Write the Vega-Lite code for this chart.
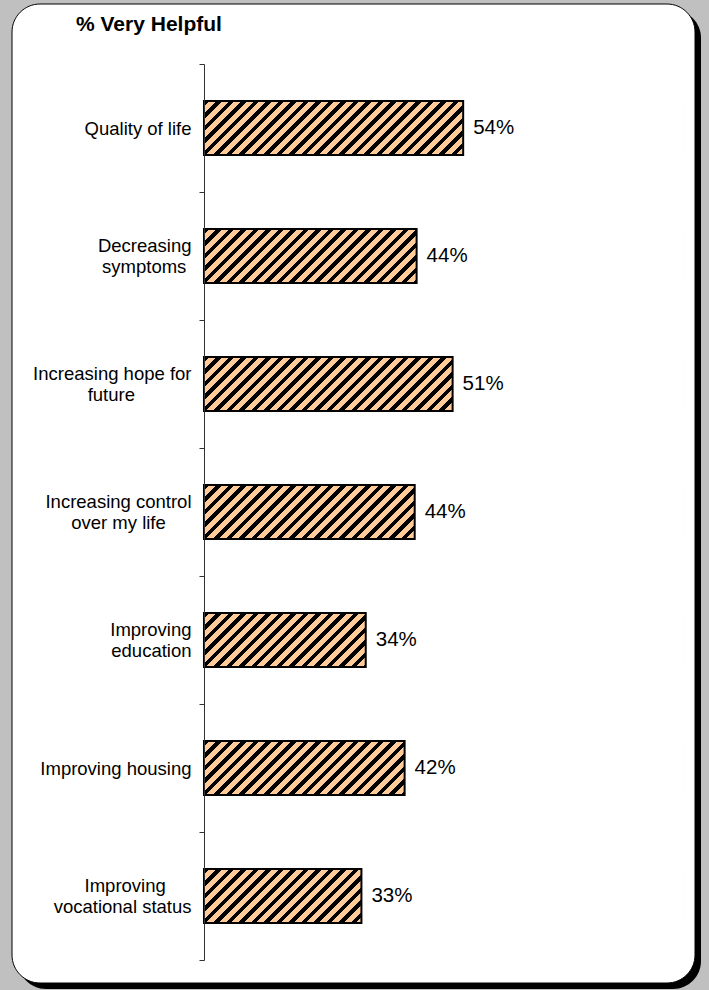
{
  "$schema": "https://vega.github.io/schema/vega-lite/v6.json",
  "width": 683,
  "height": 979,
  "autosize": {"type": "none"},
  "padding": {"left": 12, "top": 4, "right": 14, "bottom": 7},
  "background": "#c0c0c0",
  "config": {"view": {"stroke": null}},
  "title": {
    "text": "% Very Helpful",
    "anchor": "start",
    "frame": "group",
    "dx": 64,
    "offset": -51,
    "font": "Liberation Sans",
    "fontSize": 21,
    "fontWeight": "bold",
    "color": "#000000"
  },
  "data": {
    "values": [
      {"item": "Quality of life", "value": 54.0, "label": "54%"},
      {"item": "Decreasing\nsymptoms\u00a0\u200b", "value": 44.3, "label": "44%"},
      {"item": "Increasing hope for\nfuture\u00a0\u00a0\u00a0\u00a0\u00a0\u00a0\u00a0\u00a0\u00a0\u00a0\u00a0\u200b", "value": 51.8, "label": "51%"},
      {"item": "Increasing control\nover my life\u00a0\u00a0\u00a0\u00a0\u00a0\u200b", "value": 43.9, "label": "44%"},
      {"item": "Improving\neducation", "value": 33.7, "label": "34%"},
      {"item": "Improving housing", "value": 41.8, "label": "42%"},
      {"item": "Improving\u00a0\u00a0\u00a0\u00a0\u00a0\u200b\nvocational status", "value": 32.8, "label": "33%"}
    ]
  },
  "encoding": {
    "y": {
      "field": "item",
      "type": "nominal",
      "sort": null,
      "scale": {"range": [60, 956], "paddingInner": 0, "paddingOuter": 0},
      "axis": {
        "title": null,
        "orient": "left",
        "offset": -192,
        "zindex": 1,
        "domainColor": "#333333",
        "domainWidth": 1,
        "tickColor": "#333333",
        "tickWidth": 1,
        "tickSize": 5,
        "tickBand": "extent",
        "labelPadding": 8,
        "labelFont": "Liberation Sans",
        "labelFontSize": 18.5,
        "labelColor": "#000000",
        "labelLineHeight": 21.5,
        "labelLimit": 300,
        "labelExpr": "split(datum.label, '\\n')",
        "encoding": {
          "labels": {
            "dy": {"condition": {"test": "datum.value != 'Quality of life' && datum.value != 'Improving housing'", "value": -10.75}, "value": 0}
          }
        }
      }
    }
  },
  "layer": [
    {
      "data": {"values": [{"frame": "shadow"}]},
      "mark": {"type": "rect", "fill": "#000000", "cornerRadius": 28, "xOffset": 6, "x2Offset": 6, "yOffset": 6, "y2Offset": 6},
      "encoding": {"x": {"value": 0}, "x2": {"value": "width"}, "y": {"value": 0}, "y2": {"value": "height"}}
    },
    {
      "data": {"values": [{"frame": "panel"}]},
      "mark": {"type": "rect", "fill": "#ffffff", "stroke": "#000000", "strokeWidth": 1, "cornerRadius": 28},
      "encoding": {"x": {"value": 0}, "x2": {"value": "width"}, "y": {"value": 0}, "y2": {"value": "height"}}
    },
    {
      "mark": {
        "type": "bar",
        "height": {"band": 0.42},
        "fill": {
          "gradient": "linear",
          "x1": 0, "y1": 0, "x2": 1.286, "y2": 0.144,
          "stops": [
            {"offset":0,"color":"#000"},{"offset":0.009,"color":"#000"},{"offset":0.009,"color":"#fc9"},{"offset":0.02,"color":"#fc9"},
            {"offset":0.02,"color":"#000"},{"offset":0.029,"color":"#000"},{"offset":0.029,"color":"#fc9"},{"offset":0.04,"color":"#fc9"},
            {"offset":0.04,"color":"#000"},{"offset":0.049,"color":"#000"},{"offset":0.049,"color":"#fc9"},{"offset":0.06,"color":"#fc9"},
            {"offset":0.06,"color":"#000"},{"offset":0.069,"color":"#000"},{"offset":0.069,"color":"#fc9"},{"offset":0.08,"color":"#fc9"},
            {"offset":0.08,"color":"#000"},{"offset":0.089,"color":"#000"},{"offset":0.089,"color":"#fc9"},{"offset":0.1,"color":"#fc9"},
            {"offset":0.1,"color":"#000"},{"offset":0.109,"color":"#000"},{"offset":0.109,"color":"#fc9"},{"offset":0.12,"color":"#fc9"},
            {"offset":0.12,"color":"#000"},{"offset":0.129,"color":"#000"},{"offset":0.129,"color":"#fc9"},{"offset":0.14,"color":"#fc9"},
            {"offset":0.14,"color":"#000"},{"offset":0.149,"color":"#000"},{"offset":0.149,"color":"#fc9"},{"offset":0.16,"color":"#fc9"},
            {"offset":0.16,"color":"#000"},{"offset":0.169,"color":"#000"},{"offset":0.169,"color":"#fc9"},{"offset":0.18,"color":"#fc9"},
            {"offset":0.18,"color":"#000"},{"offset":0.189,"color":"#000"},{"offset":0.189,"color":"#fc9"},{"offset":0.2,"color":"#fc9"},
            {"offset":0.2,"color":"#000"},{"offset":0.209,"color":"#000"},{"offset":0.209,"color":"#fc9"},{"offset":0.22,"color":"#fc9"},
            {"offset":0.22,"color":"#000"},{"offset":0.229,"color":"#000"},{"offset":0.229,"color":"#fc9"},{"offset":0.24,"color":"#fc9"},
            {"offset":0.24,"color":"#000"},{"offset":0.249,"color":"#000"},{"offset":0.249,"color":"#fc9"},{"offset":0.26,"color":"#fc9"},
            {"offset":0.26,"color":"#000"},{"offset":0.269,"color":"#000"},{"offset":0.269,"color":"#fc9"},{"offset":0.28,"color":"#fc9"},
            {"offset":0.28,"color":"#000"},{"offset":0.289,"color":"#000"},{"offset":0.289,"color":"#fc9"},{"offset":0.3,"color":"#fc9"},
            {"offset":0.3,"color":"#000"},{"offset":0.309,"color":"#000"},{"offset":0.309,"color":"#fc9"},{"offset":0.32,"color":"#fc9"},
            {"offset":0.32,"color":"#000"},{"offset":0.329,"color":"#000"},{"offset":0.329,"color":"#fc9"},{"offset":0.34,"color":"#fc9"},
            {"offset":0.34,"color":"#000"},{"offset":0.349,"color":"#000"},{"offset":0.349,"color":"#fc9"},{"offset":0.36,"color":"#fc9"},
            {"offset":0.36,"color":"#000"},{"offset":0.369,"color":"#000"},{"offset":0.369,"color":"#fc9"},{"offset":0.38,"color":"#fc9"},
            {"offset":0.38,"color":"#000"},{"offset":0.389,"color":"#000"},{"offset":0.389,"color":"#fc9"},{"offset":0.4,"color":"#fc9"},
            {"offset":0.4,"color":"#000"},{"offset":0.409,"color":"#000"},{"offset":0.409,"color":"#fc9"},{"offset":0.42,"color":"#fc9"},
            {"offset":0.42,"color":"#000"},{"offset":0.429,"color":"#000"},{"offset":0.429,"color":"#fc9"},{"offset":0.44,"color":"#fc9"},
            {"offset":0.44,"color":"#000"},{"offset":0.449,"color":"#000"},{"offset":0.449,"color":"#fc9"},{"offset":0.46,"color":"#fc9"},
            {"offset":0.46,"color":"#000"},{"offset":0.469,"color":"#000"},{"offset":0.469,"color":"#fc9"},{"offset":0.48,"color":"#fc9"},
            {"offset":0.48,"color":"#000"},{"offset":0.489,"color":"#000"},{"offset":0.489,"color":"#fc9"},{"offset":0.5,"color":"#fc9"},
            {"offset":0.5,"color":"#000"},{"offset":0.509,"color":"#000"},{"offset":0.509,"color":"#fc9"},{"offset":0.52,"color":"#fc9"},
            {"offset":0.52,"color":"#000"},{"offset":0.529,"color":"#000"},{"offset":0.529,"color":"#fc9"},{"offset":0.54,"color":"#fc9"},
            {"offset":0.54,"color":"#000"},{"offset":0.549,"color":"#000"},{"offset":0.549,"color":"#fc9"},{"offset":0.56,"color":"#fc9"},
            {"offset":0.56,"color":"#000"},{"offset":0.569,"color":"#000"},{"offset":0.569,"color":"#fc9"},{"offset":0.58,"color":"#fc9"},
            {"offset":0.58,"color":"#000"},{"offset":0.589,"color":"#000"},{"offset":0.589,"color":"#fc9"},{"offset":0.6,"color":"#fc9"},
            {"offset":0.6,"color":"#000"},{"offset":0.609,"color":"#000"},{"offset":0.609,"color":"#fc9"},{"offset":0.62,"color":"#fc9"},
            {"offset":0.62,"color":"#000"},{"offset":0.629,"color":"#000"},{"offset":0.629,"color":"#fc9"},{"offset":0.64,"color":"#fc9"},
            {"offset":0.64,"color":"#000"},{"offset":0.649,"color":"#000"},{"offset":0.649,"color":"#fc9"},{"offset":0.66,"color":"#fc9"},
            {"offset":0.66,"color":"#000"},{"offset":0.669,"color":"#000"},{"offset":0.669,"color":"#fc9"},{"offset":0.68,"color":"#fc9"},
            {"offset":0.68,"color":"#000"},{"offset":0.689,"color":"#000"},{"offset":0.689,"color":"#fc9"},{"offset":0.7,"color":"#fc9"},
            {"offset":0.7,"color":"#000"},{"offset":0.709,"color":"#000"},{"offset":0.709,"color":"#fc9"},{"offset":0.72,"color":"#fc9"},
            {"offset":0.72,"color":"#000"},{"offset":0.729,"color":"#000"},{"offset":0.729,"color":"#fc9"},{"offset":0.74,"color":"#fc9"},
            {"offset":0.74,"color":"#000"},{"offset":0.749,"color":"#000"},{"offset":0.749,"color":"#fc9"},{"offset":0.76,"color":"#fc9"},
            {"offset":0.76,"color":"#000"},{"offset":0.769,"color":"#000"},{"offset":0.769,"color":"#fc9"},{"offset":0.78,"color":"#fc9"},
            {"offset":0.78,"color":"#000"},{"offset":0.789,"color":"#000"},{"offset":0.789,"color":"#fc9"},{"offset":0.8,"color":"#fc9"},
            {"offset":0.8,"color":"#000"},{"offset":0.809,"color":"#000"},{"offset":0.809,"color":"#fc9"},{"offset":0.82,"color":"#fc9"},
            {"offset":0.82,"color":"#000"},{"offset":0.829,"color":"#000"},{"offset":0.829,"color":"#fc9"},{"offset":0.84,"color":"#fc9"},
            {"offset":0.84,"color":"#000"},{"offset":0.849,"color":"#000"},{"offset":0.849,"color":"#fc9"},{"offset":0.86,"color":"#fc9"},
            {"offset":0.86,"color":"#000"},{"offset":0.869,"color":"#000"},{"offset":0.869,"color":"#fc9"},{"offset":0.88,"color":"#fc9"}
          ]
        }
      },
      "encoding": {
        "x": {"datum": 0, "type": "quantitative", "scale": {"domain": [-40, 102.3], "zero": false, "nice": false}, "axis": null},
        "x2": {"datum": 100}
      }
    },
    {
      "mark": {"type": "bar", "height": {"band": 0.42}, "fill": "#ffffff", "stroke": "#ffffff", "strokeWidth": 1},
      "encoding": {
        "x": {"field": "value", "type": "quantitative"},
        "x2": {"datum": 100}
      }
    },
    {
      "mark": {"type": "bar", "height": {"band": 0.42}, "fill": null, "fillOpacity": 0, "stroke": "#000000", "strokeWidth": 2},
      "encoding": {
        "x": {"field": "value", "type": "quantitative"},
        "x2": {"datum": 0}
      }
    },
    {
      "mark": {"type": "text", "align": "left", "baseline": "middle", "dx": 10, "font": "Liberation Sans", "fontSize": 20.5, "color": "#000000"},
      "encoding": {
        "x": {"field": "value", "type": "quantitative"},
        "text": {"field": "label"}
      }
    }
  ]
}
